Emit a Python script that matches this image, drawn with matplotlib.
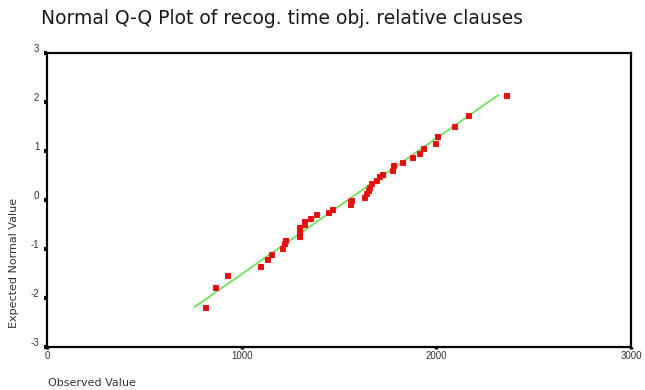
import matplotlib
matplotlib.use("Agg")
import matplotlib.pyplot as plt
import matplotlib.transforms as mtransforms

observed = [814, 862, 927, 1092, 1130, 1150, 1207, 1215, 1221,
            1297, 1297, 1297, 1297, 1318, 1318, 1349, 1383, 1446, 1465,
            1554, 1555, 1564, 1627, 1640, 1651, 1653, 1662, 1689, 1703,
            1723, 1773, 1779, 1826, 1875, 1911, 1933, 1995, 2004, 2092,
            2164, 2359]
expected = [-2.19, -1.77, -1.54, -1.34, -1.21, -1.10, -0.97, -0.88, -0.82,
            -0.74, -0.68, -0.61, -0.56, -0.50, -0.42, -0.37, -0.29, -0.24, -0.18,
            -0.09, -0.03, 0.01, 0.06, 0.15, 0.20, 0.26, 0.34, 0.40, 0.48,
            0.53, 0.62, 0.71, 0.78, 0.87, 0.96, 1.07, 1.17, 1.31, 1.50,
            1.74, 2.14]

# Reference line end points
line_x = [759, 2318]
line_y = [-2.18, 2.14]

x_ticks = [0, 1000, 2000, 3000]
y_ticks = [-3, -2, -1, 0, 1, 2, 3]

title = "Normal Q-Q Plot of recog. time obj. relative clauses"
xlabel = "Observed Value"
ylabel = "Expected Normal Value"

plt.rcParams['font.family'] = ['Liberation Sans', 'DejaVu Sans']

fig = plt.figure(figsize=(6.45, 3.9), dpi=100)
ax = fig.add_axes([47/645, 1-347/390, (631-47)/645, (347-53)/390])

ax.plot(line_x, line_y, color='#6ee05a', lw=1.3, zorder=2)
ax.plot(observed, expected, linestyle='none', marker='s', markersize=3.6,
        markerfacecolor='#e01010', markeredgecolor='#e81818', markeredgewidth=0.8,
        zorder=3)

ax.set_xlim(0, 3000)
ax.set_ylim(-3, 3)
ax.set_xticks(x_ticks)
ax.set_yticks(y_ticks)
ax.set_xticklabels([str(v) for v in x_ticks])
ax.set_yticklabels([str(v) for v in y_ticks])

for s in ax.spines.values():
    s.set_linewidth(1.6)
    s.set_color('black')

ax.tick_params(axis='y', direction='out', length=2.5, width=3, color='black',
               labelsize=7, labelcolor='#333333', pad=3)
ax.tick_params(axis='x', direction='out', length=1.2, width=2.5, color='black',
               labelsize=7, labelcolor='#333333', pad=2)

# shift y tick labels slightly upward like the original
offset = mtransforms.ScaledTranslation(0, 5/100, fig.dpi_scale_trans)
for lbl in ax.get_yticklabels():
    lbl.set_transform(lbl.get_transform() + offset)

wide = ['DejaVu Sans']
fig.text(41/645, 1-19/390, title, fontsize=13.5, color='#1a1a1a',
         ha='left', va='center', family=wide)
fig.text(48/645, 1-383/390, xlabel, fontsize=8, color='#333333',
         ha='left', va='center', family=wide)
fig.text(14/645, 1-263/390, ylabel, fontsize=8, color='#333333',
         ha='center', va='center', rotation=90, family=wide)

fig.savefig('out.png', dpi=100)
